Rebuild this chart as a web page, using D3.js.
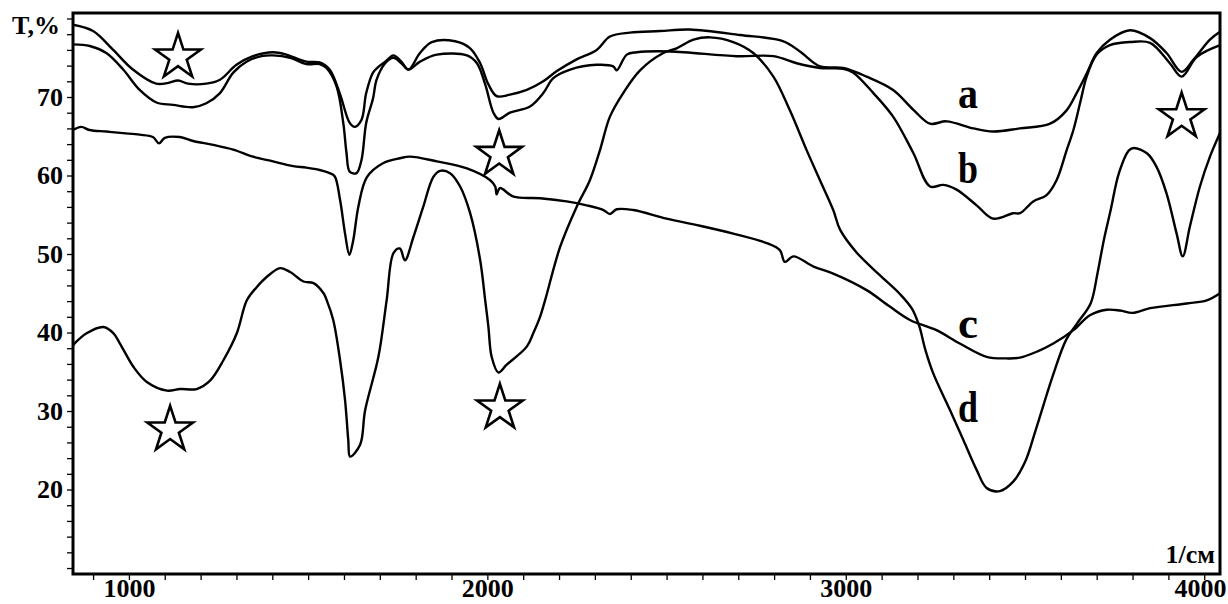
<!DOCTYPE html>
<html>
<head>
<meta charset="utf-8">
<script src="https://cdnjs.cloudflare.com/ajax/libs/d3/7.8.5/d3.min.js"></script>
<style>
    body { margin: 0; background: #fff; }
    svg text { font-family: "Liberation Serif", "Times New Roman", serif; font-weight: bold; fill: #000; }
</style>
</head>
<body>
<div id="chart"></div>
<script>
// wavenumber (1/cm), transmittance (%)
const seriesA = [[844,79.2],[900,78.4],[956,76.0],[1011,73.5],[1076,71.7],[1110,71.8],[1137,72.1],[1165,71.7],[1216,71.7],[1254,72.2],[1300,74.1],[1346,75.2],[1402,75.7],[1439,75.4],[1495,74.5],[1532,74.4],[1560,73.5],[1588,70.5],[1616,66.7],[1630,66.2],[1649,67.1],[1662,70.5],[1681,73.1],[1700,74.0],[1715,74.5],[1738,75.3],[1760,74.5],[1780,73.5],[1812,75.6],[1845,77.0],[1910,77.1],[1952,76.2],[1980,74.3],[2003,71.6],[2026,70.1],[2063,70.3],[2110,70.9],[2156,72.0],[2194,73.3],[2249,74.8],[2305,76.0],[2342,77.7],[2398,78.2],[2482,78.4],[2565,78.6],[2705,77.9],[2826,77.1],[2872,75.8],[2928,73.9],[2993,73.7],[3058,72.6],[3132,70.9],[3188,68.4],[3235,66.6],[3281,66.9],[3356,66.0],[3411,65.6],[3486,66.0],[3570,66.6],[3616,68.3],[3644,70.5],[3672,73.0],[3700,75.6],[3737,77.3],[3793,78.5],[3849,77.5],[3895,75.6],[3937,73.2],[3969,74.7],[4016,77.3],[4044,78.3]];

const seriesB = [[844,76.7],[891,76.5],[937,75.6],[984,73.5],[1030,70.9],[1077,69.3],[1123,69.0],[1179,68.7],[1216,69.2],[1254,70.5],[1291,73.1],[1328,74.5],[1370,75.2],[1402,75.3],[1450,75.0],[1495,74.2],[1532,74.2],[1551,73.7],[1579,71.4],[1598,66.7],[1607,62.9],[1616,60.5],[1635,60.3],[1649,62.0],[1662,66.7],[1681,69.8],[1691,72.2],[1715,74.3],[1738,75.0],[1760,74.3],[1780,73.5],[1812,74.5],[1859,75.4],[1943,75.3],[1971,74.3],[1994,71.6],[2017,68.0],[2031,67.2],[2063,68.0],[2119,68.8],[2156,70.5],[2184,72.4],[2231,73.5],[2305,74.1],[2351,73.9],[2361,73.4],[2389,75.4],[2417,75.7],[2510,75.8],[2696,75.2],[2798,75.2],[2863,74.3],[2928,73.7],[2993,73.6],[3021,73.1],[3077,70.5],[3132,67.5],[3188,62.9],[3235,58.6],[3272,58.8],[3309,58.2],[3365,56.2],[3411,54.5],[3467,55.2],[3486,55.2],[3523,56.7],[3560,57.5],[3588,59.4],[3616,63.2],[3635,65.8],[3655,69.5],[3672,72.6],[3700,75.4],[3737,76.6],[3793,77.0],[3849,76.9],[3904,74.3],[3937,72.6],[3979,75.1],[4044,76.6]];

const seriesC = [[844,65.8],[867,66.2],[890,65.8],[937,65.6],[984,65.4],[1030,65.2],[1067,64.9],[1084,64.1],[1100,64.8],[1142,64.9],[1179,64.4],[1235,63.9],[1291,63.3],[1346,62.4],[1402,61.8],[1458,61.2],[1495,61.0],[1532,60.7],[1560,60.3],[1574,59.9],[1589,56.9],[1603,52.6],[1615,49.9],[1626,51.8],[1640,56.0],[1664,59.8],[1710,61.6],[1756,62.2],[1784,62.4],[1859,61.8],[1943,60.9],[2008,59.4],[2022,58.6],[2026,57.6],[2035,58.4],[2073,57.3],[2147,57.1],[2221,56.7],[2277,56.2],[2324,55.6],[2342,55.1],[2361,55.7],[2407,55.6],[2500,54.5],[2593,53.6],[2686,52.6],[2779,51.4],[2816,50.5],[2830,49.0],[2854,49.7],[2910,48.4],[2965,47.5],[3058,45.4],[3123,43.3],[3179,41.6],[3253,40.3],[3318,38.6],[3393,36.9],[3449,36.7],[3486,36.8],[3535,37.6],[3579,38.6],[3635,40.3],[3681,42.2],[3728,42.9],[3765,42.8],[3800,42.5],[3849,43.1],[3951,43.7],[4007,44.1],[4044,45.0]];

const seriesD = [[844,38.4],[882,39.9],[929,40.7],[957,39.9],[975,38.6],[1013,35.6],[1050,33.7],[1106,32.6],[1143,32.8],[1189,32.8],[1227,33.9],[1264,36.5],[1301,39.9],[1329,44.1],[1357,45.8],[1385,47.1],[1422,48.2],[1450,47.7],[1487,46.5],[1515,46.3],[1543,45.0],[1552,44.1],[1570,41.6],[1589,36.5],[1603,31.4],[1612,26.3],[1617,24.2],[1645,25.7],[1659,30.1],[1696,36.9],[1719,44.1],[1738,50.1],[1756,50.7],[1770,49.2],[1794,52.2],[1821,56.0],[1849,59.8],[1868,60.6],[1896,60.3],[1924,58.6],[1952,55.2],[1980,49.2],[1994,44.1],[2003,40.7],[2012,36.9],[2031,34.9],[2054,35.9],[2110,38.2],[2128,39.9],[2147,42.0],[2161,44.1],[2203,50.9],[2249,56.0],[2286,59.4],[2314,63.2],[2342,67.5],[2379,70.5],[2426,73.4],[2491,75.6],[2528,76.2],[2575,77.3],[2621,77.6],[2686,77.0],[2742,75.6],[2798,72.6],[2844,68.3],[2891,63.2],[2928,59.4],[2965,55.6],[2984,53.1],[3030,50.2],[3095,47.3],[3151,44.9],[3185,43.0],[3205,40.8],[3222,37.8],[3244,34.8],[3291,30.1],[3328,26.3],[3365,22.5],[3393,20.2],[3430,19.8],[3467,21.0],[3500,23.5],[3530,27.6],[3577,34.4],[3614,39.0],[3646,41.2],[3683,43.7],[3702,47.5],[3720,51.8],[3739,55.6],[3762,60.3],[3790,63.2],[3804,63.5],[3841,62.8],[3867,61.1],[3895,57.7],[3923,52.6],[3940,49.7],[3960,53.5],[3988,58.6],[4016,62.4],[4044,65.4]];

const seriesNames = ["a", "b", "c", "d"];
const labelAnchors = [[3341, 68.6], [3341, 59.0], [3341, 39.3], [3341, 28.6]];
const starMarks = [[1137, 75.1], [2033, 62.7], [3937, 67.5], [1115, 27.6], [2035, 30.4]];
const yTickLabels = [20, 30, 40, 50, 60, 70];
const xTickLabels = [1000, 2000, 3000, 4000];

const width = 1228, height = 604;

const svg = d3.select("#chart").append("svg")
    .attr("width", width)
    .attr("height", height)
    .style("display", "block");

svg.append("rect").attr("width", width).attr("height", height).attr("fill", "#fff");

const x = d3.scaleLinear().domain([844, 4044]).range([73, 1220]);
const y = d3.scaleLinear().domain([9.24, 80.7]).range([574, 13]);

// axes: minor ticks every 2 % / 100 1/cm, labels only on the majors
const yAxis = d3.axisLeft(y)
    .tickValues(d3.range(10, 81, 2))
    .tickSize(6)
    .tickPadding(4)
    .tickFormat(d => yTickLabels.includes(d) ? d : "");

const xAxis = d3.axisBottom(x)
    .tickValues(d3.range(900, 4001, 100))
    .tickSize(6)
    .tickFormat(d => xTickLabels.includes(d) ? d : "");

const gy = svg.append("g").attr("transform", "translate(73,0)").call(yAxis);
const gx = svg.append("g").attr("transform", "translate(0,574)").call(xAxis);

[gx, gy].forEach(g => {
    g.select(".domain").remove();
    g.selectAll(".tick line").attr("stroke", "#000").attr("stroke-width", 1.3);
    g.selectAll(".tick text")
        .style("font-size", "26px")
        .style("font-family", '"Liberation Serif", "Times New Roman", serif')
        .style("font-weight", "bold")
        .attr("fill", "#000");
});

// keep the bottom labels inside the page
gx.selectAll(".tick text").attr("dy", null).attr("y", 23);
gx.selectAll(".tick text")
    .filter(d => d === 4000)
    .attr("text-anchor", "end")
    .attr("x", width - 2 - x(4000));

// spectra
const line = d3.line()
    .x(d => x(d[0]))
    .y(d => y(d[1]))
    .curve(d3.curveCatmullRom.alpha(0.5));

svg.append("defs").append("clipPath").attr("id", "plot-clip")
    .append("rect").attr("x", 73).attr("y", 13).attr("width", 1147).attr("height", 561);

svg.append("g")
    .attr("clip-path", "url(#plot-clip)")
    .selectAll("path")
    .data([seriesA, seriesB, seriesC, seriesD])
    .enter()
    .append("path")
    .attr("d", line)
    .attr("fill", "none")
    .attr("stroke", "#000")
    .attr("stroke-width", 2.4)
    .attr("stroke-linejoin", "round");

// frame
svg.append("rect")
    .attr("x", 73).attr("y", 13)
    .attr("width", 1147).attr("height", 561)
    .attr("fill", "none")
    .attr("stroke", "#000")
    .attr("stroke-width", 3);

// open stars marking the bands
const star = d3.symbol().type(d3.symbolStar).size(650);
svg.selectAll(".star")
    .data(starMarks)
    .enter()
    .append("path")
    .attr("class", "star")
    .attr("d", star)
    .attr("transform", d => `translate(${x(d[0])},${y(d[1])})`)
    .attr("fill", "#fff")
    .attr("stroke", "#000")
    .attr("stroke-width", 2.6);

// curve letters
svg.selectAll(".series-label")
    .data(seriesNames)
    .enter()
    .append("text")
    .attr("class", "series-label")
    .attr("x", (d, i) => x(labelAnchors[i][0]))
    .attr("y", (d, i) => y(labelAnchors[i][1]))
    .attr("text-anchor", "middle")
    .attr("textLength", 20)
    .attr("lengthAdjust", "spacingAndGlyphs")
    .style("font-size", "44px")
    .text(d => d);

svg.append("text")
    .attr("x", 12).attr("y", 34)
    .style("font-size", "26px")
    .text("T,%");

svg.append("text")
    .attr("x", 1215).attr("y", 563)
    .attr("text-anchor", "end")
    .style("font-size", "26px")
    .text("1/см");
</script>
</body>
</html>
